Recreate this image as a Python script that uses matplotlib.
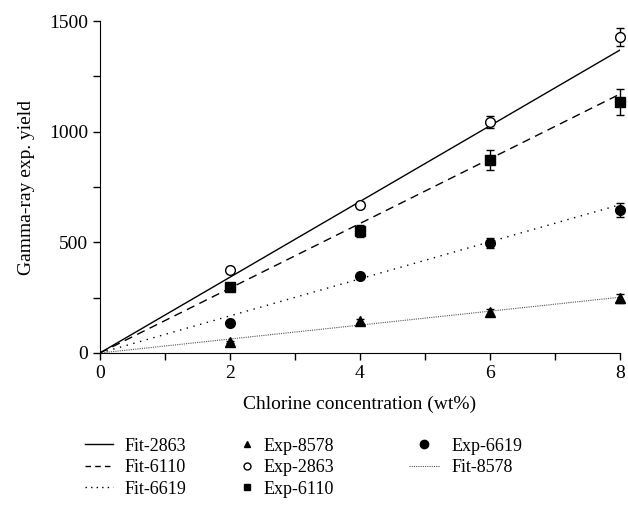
import matplotlib.pyplot as plt
from matplotlib.lines import Line2D

plt.rcParams["font.family"] = ["Liberation Serif", "DejaVu Serif"]

conc = [2, 4, 6, 8]
fit_x = [0, 8]

exp_2863 = [375, 669, 1044, 1428]
err_2863 = [12, 15, 28, 40]
exp_6110 = [298, 551, 872, 1134]
err_6110 = [10, 28, 45, 60]
exp_6619 = [136, 348, 497, 646]
err_6619 = [8, 12, 22, 30]
exp_8578 = [50, 145, 185, 248]
err_8578 = [6, 10, 12, 20]

fit_2863 = [0, 1369]
fit_6110 = [0, 1170]
fit_6619 = [0, 670]
fit_8578 = [0, 252]

fig = plt.figure(figsize=(6.28, 5.09), dpi=100)
ax = fig.add_axes([0.159, 0.3065, 0.828, 0.652])

ax.plot(fit_x, fit_2863, color="black", lw=1.0, ls="-")
ax.plot(fit_x, fit_6110, color="black", lw=1.0, ls=(0, (6, 4)))
ax.plot(fit_x, fit_6619, color="black", lw=1.0, ls=(0, (1, 4)))
ax.plot(fit_x, fit_8578, color="#555555", lw=0.8, ls=(0, (1, 1)))

ekw = dict(ecolor="black", elinewidth=1.0, capsize=3, capthick=1.0, ls="none")
series = [
    (exp_2863, err_2863, dict(marker="o", mfc="white", mec="black", mew=1.0)),
    (exp_6110, err_6110, dict(marker="s", color="black")),
    (exp_6619, err_6619, dict(marker="o", color="black")),
    (exp_8578, err_8578, dict(marker="^", color="black")),
]
for vals, errs, style in series:
    cont = ax.errorbar(conc, vals, yerr=errs, ms=7, **style, **ekw)
    for art in cont.get_children():
        art.set_clip_on(False)

ax.set_xlim(0, 8)
ax.set_ylim(0, 1500)
ax.set_xticks([0, 2, 4, 6, 8])
ax.set_xticks([1, 3, 5, 7], minor=True)
ax.set_yticks([0, 500, 1000, 1500])
ax.set_yticks([250, 750, 1250], minor=True)
ax.spines["top"].set_visible(False)
ax.spines["right"].set_visible(False)
ax.tick_params(which="major", length=5, width=1.0, labelsize=14, direction="out")
ax.tick_params(which="minor", length=5, width=1.0, direction="out")
ax.set_xlabel("Chlorine concentration (wt%)", fontsize=14, labelpad=10)
ax.set_ylabel("Gamma-ray exp. yield", fontsize=14, labelpad=10)

# legend split into three columns so each can have its own handle width
leg_kw = dict(loc="upper left", frameon=False, fontsize=13, borderpad=0,
              labelspacing=0.25, borderaxespad=0)
col1 = [
    (Line2D([], [], color="black", lw=1.0, ls="-"), "Fit-2863"),
    (Line2D([], [], color="black", lw=1.0, ls=(0, (4, 3))), "Fit-6110"),
    (Line2D([], [], color="black", lw=1.0, ls=(0, (1, 3))), "Fit-6619"),
]
col2 = [
    (Line2D([], [], color="black", marker="^", ls="none", ms=5), "Exp-8578"),
    (Line2D([], [], color="black", marker="o", ls="none", ms=5, mfc="white"), "Exp-2863"),
    (Line2D([], [], color="black", marker="s", ls="none", ms=5), "Exp-6110"),
]
col3 = [
    (Line2D([], [], color="black", marker="o", ls="none", ms=6), "Exp-6619"),
    (Line2D([], [], color="#555555", lw=0.8, ls=(0, (1, 1))), "Fit-8578"),
]
for items, x0, hl, pad in [(col1, 0.135, 1.55, 0.67),
                           (col2, 0.384, 0.67, 0.55),
                           (col3, 0.651, 1.72, 0.67)]:
    fig.legend([h for h, _ in items], [t for _, t in items],
               bbox_to_anchor=(x0, 0.140), handlelength=hl,
               handletextpad=pad, **leg_kw)

fig.savefig("out.png", dpi=100)
